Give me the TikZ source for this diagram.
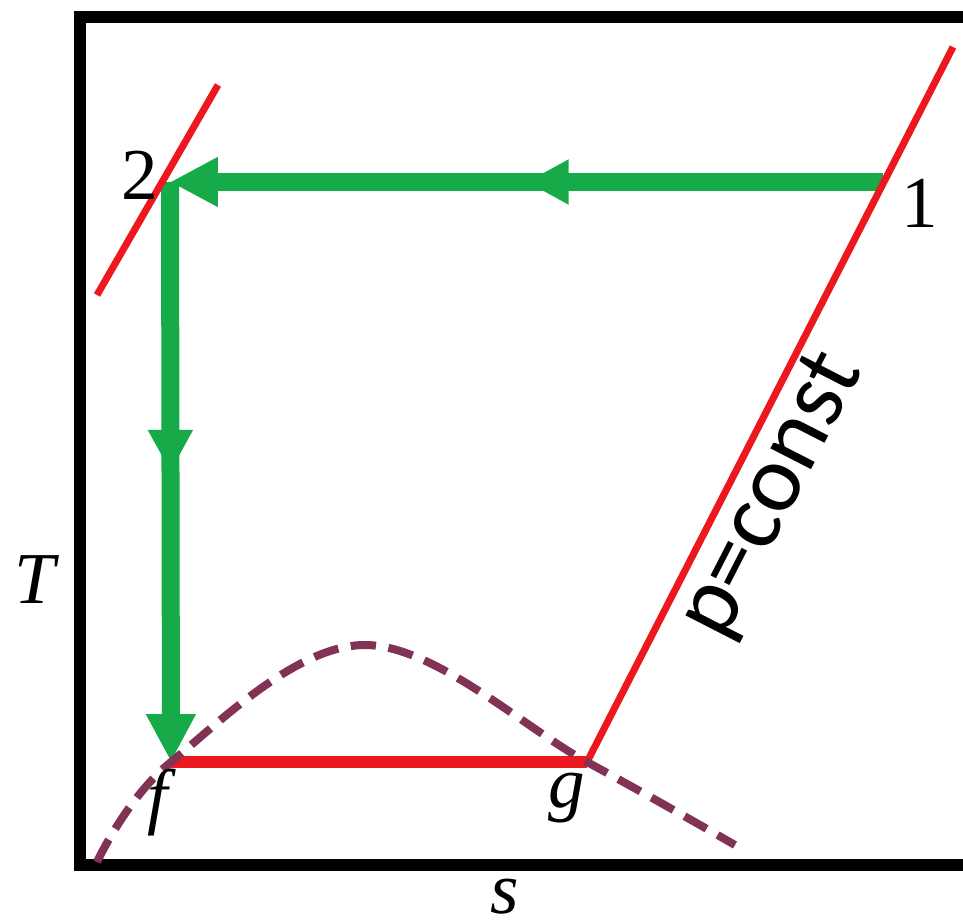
\documentclass[tikz,border=0pt]{standalone}
\usepackage{fontspec}
\setmainfont{Liberation Serif}
\newfontfamily\constfont{Carlito}
\usetikzlibrary{arrows.meta,decorations.markings,positioning}

\definecolor{procgreen}{RGB}{22,170,72}
\definecolor{isored}{RGB}{236,24,30}
\definecolor{domecol}{RGB}{130,50,85}

\begin{document}
\begin{tikzpicture}[x=0.025cm, y=-0.025cm,
        frame/.style={draw=black, line width=8.5pt},
        proc/.style={color=procgreen, line width=12.8pt, -{Triangle[length=34pt, width=33pt]},
            postaction={decorate},
            decoration={markings, mark=at position 0.5 with {\arrow{Triangle[length=30pt, width=30pt]}}}},
        isobar/.style={draw=isored, line width=5pt},
        dome/.style={draw=domecol, line width=5.7pt, dash pattern=on 18pt off 9pt},
        lbl/.style={inner sep=0pt, font=\fontsize{52}{60}\selectfont}]

    \useasboundingbox (0,0) rectangle (963,920);

    % axes box
    \draw[frame] (1000,17) -- (80,17) -- (80,865) -- (1000,865);

    % state points
    \coordinate (p1) at (883,182);
    \coordinate (p2) at (170,182);
    \coordinate (f) at (171,762);
    \coordinate (g) at (587,762);
    \coordinate (top1) at (953,47);
    \coordinate (lo2) at (97,295);
    \coordinate (hi2) at (218,85);

    % process 1-2-f
    \draw[proc] (p1) -- (p2);
    \draw[proc] (p2) -- (f);

    % isobars
    \draw[isobar] (lo2) -- (hi2);
    \draw[isobar, line width=8.5pt] (f) -- (g);
    \draw[isobar] (g) -- node[pos=0.4, sloped, below=2pt, inner sep=0pt,
        font=\constfont\fontsize{68}{72}\selectfont] (plabel) {p=const} (top1);

    % saturation dome
    \draw[dome] plot[smooth, tension=0.6] coordinates {(97,862) (f) (365,645) (g) (735,845)};

    % labels
    \node[lbl] (lab1) at (920,203) {1};
    \node[lbl] (lab2) at (140,175) {2};
    \node[lbl] (labf) at (158,803) {\itshape f};
    \node[lbl] (labg) at (567,798) {\itshape g};
    \node[lbl] (labT) at (35,580) {\itshape T};
    \node[lbl] (labs) at (505,897) {\itshape s};
\end{tikzpicture}
\end{document}
